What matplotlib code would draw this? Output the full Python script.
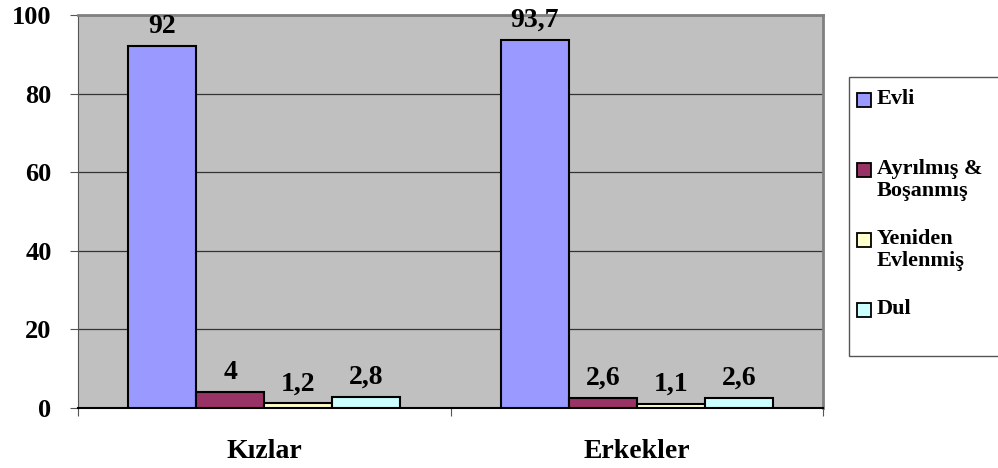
import numpy as np
import matplotlib
matplotlib.use('Agg')
import matplotlib.pyplot as plt
from matplotlib.patches import Rectangle

groups = ['Kızlar', 'Erkekler']
series = ['Evli', 'Ayrılmış &\nBoşanmış', 'Yeniden\nEvlenmiş', 'Dul']
values = [
    [92, 93.7],   # Evli
    [4, 2.6],     # Ayrılmış & Boşanmış
    [1.2, 1.1],   # Yeniden Evlenmiş
    [2.8, 2.6],   # Dul
]
colors = ['#9999FF', '#993366', '#FFFFCC', '#CCFFFF']
yticks = [0, 20, 40, 60, 80, 100]

plt.rcParams['font.family'] = ['Liberation Serif', 'DejaVu Serif']
plt.rcParams['font.weight'] = 'bold'

W, H = 998, 468
fig = plt.figure(figsize=(W / 100, H / 100), dpi=100)
ax = fig.add_axes([78 / W, (H - 408) / H, (823 - 78) / W, (408 - 15) / H])
ax.set_facecolor('#C0C0C0')

bar_w = 0.1825
x = np.arange(len(groups)) + 0.5
for i, (name, vals, c) in enumerate(zip(series, values, colors)):
    pos = x + (i - 1.5) * bar_w
    ax.bar(pos, vals, width=bar_w, color=c, edgecolor='black', linewidth=1.5, zorder=3)
    for px, v in zip(pos, vals):
        ax.annotate(str(v).replace('.', ','), xy=(px, v), xytext=(0, 5),
                    textcoords='offset points', ha='center', va='bottom',
                    fontsize=20, fontweight='bold', zorder=4, annotation_clip=False)

ax.set_xlim(0, len(groups))
ax.set_ylim(0, 100)
ax.set_yticks(yticks)
ax.yaxis.grid(True, color='#333333', linewidth=0.9, zorder=1)
ax.tick_params(axis='y', length=6, width=0.8, pad=13, labelsize=19, color='#555555')

ax.set_xticks([0, 1, 2])
ax.set_xticklabels([])
ax.tick_params(axis='x', which='major', length=6, width=0.8, color='#555555')
ax.set_xticks(x, minor=True)
ax.set_xticklabels(groups, minor=True, fontsize=20, fontweight='bold')
ax.tick_params(axis='x', which='minor', length=0, pad=22)

for s in ['top', 'right']:
    ax.spines[s].set_color('#808080')
    ax.spines[s].set_linewidth(2)
ax.spines['left'].set_color('#555555')
ax.spines['bottom'].set_color('black')
ax.spines['bottom'].set_linewidth(1.5)

# legend box
fig.patches.append(Rectangle((849 / W, (H - 356) / H), 200 / W, (356 - 77) / H,
                             transform=fig.transFigure, facecolor='white',
                             edgecolor='#555555', linewidth=1))
leg_y = [100, 170, 240, 310]
for name, c, yy in zip(series, colors, leg_y):
    fig.patches.append(Rectangle((857 / W, (H - yy - 7) / H), 14 / W, 14 / H,
                                 transform=fig.transFigure, facecolor=c,
                                 edgecolor='black', linewidth=1.3))
    fig.text(877 / W, (H - yy + 11) / H, name, ha='left', va='top',
             fontsize=16, fontweight='bold', linespacing=1.15)

fig.savefig('out.png', dpi=100)
